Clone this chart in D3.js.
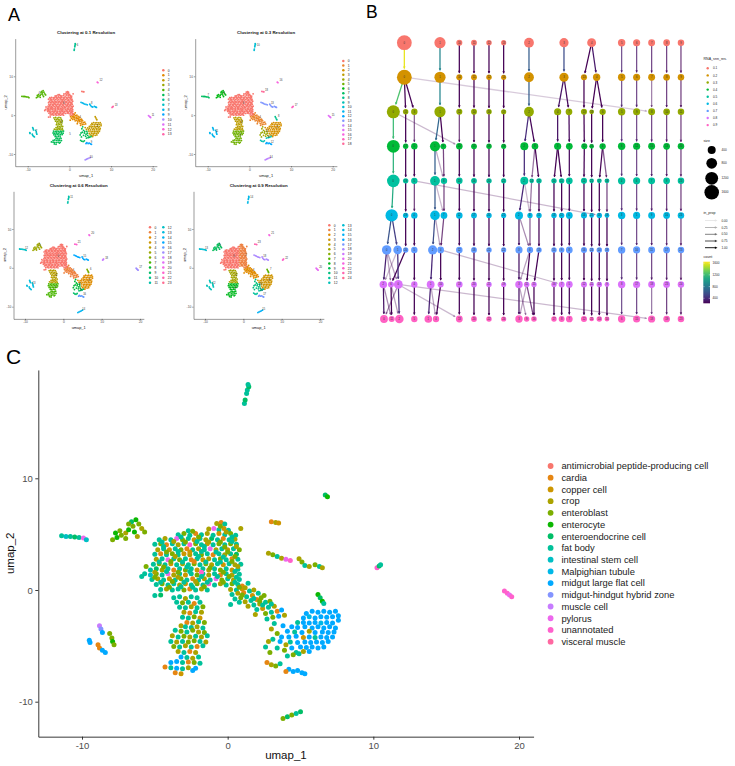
<!DOCTYPE html>
<html lang="en">
<head>
<meta charset="UTF-8">
<script src="https://cdn.jsdelivr.net/npm/d3@7"></script>
<title>clusters</title>
<style>
  body { margin: 0; background: #fff; }
  svg { font-family: "Liberation Sans", Arial, Helvetica, sans-serif; }
</style>
</head>
<body>
<svg id="fig" width="735" height="766"></svg>
<script>
// ---- data ----
const cellTypes = ["antimicrobial peptide-producing cell", "cardia", "copper cell", "crop", "enteroblast",
  "enterocyte", "enteroendocrine cell", "fat body", "intestinal stem cell", "Malpighian tubule",
  "midgut large flat cell", "midgut-hindgut hybrid zone", "muscle cell", "pylorus", "unannotated", "visceral muscle"];
const typeCodes = "abcdefghijklmnop";

// umap points per region, "x,y" + cell type code
const regionNames = ["mainL", "mainR", "bridge", "rightBlob", "rightLow", "lowerUpper", "lowerBottom", "leftCluster",
  "farLeft", "topIsland", "leftSmall", "blueBottom", "midRight", "bottomIsle", "farRight", "dotUp", "dotRight",
  "topSmall", "greenR", "smallBlobs"];
const regionPoints = [
  "-2.7,5.3h -1.3,5.45d -3.4,4.95h -3.0,5.05e -2.6,4.9h -2.2,5.05b -1.8,4.95h -1.4,5.05d " +
  "-4.7,4.5h -4.3,4.6d -3.9,4.5h -3.5,4.6n -3.1,4.5e -2.7,4.6h -2.3,4.5c -1.9,4.6h -1.5,4.5d -1.1,4.6g " +
  "-5.0,4.1h -4.6,4.15e -4.2,4.05b -3.8,4.15h -3.4,4.05d -3.0,4.15h -2.6,4.05o -2.2,4.15e -1.8,4.05h -1.4,4.15c " +
  "-4.8,3.6d -4.4,3.7h -4.0,3.6c -3.6,3.7h -3.2,3.6e -2.8,3.7b -2.4,3.6h -2.0,3.7d -1.6,3.6h -1.2,3.7n " +
  "-5.0,3.2h -4.6,3.25b -4.2,3.15h -3.8,3.25e -3.4,3.15h -3.0,3.25c -2.6,3.15d -2.2,3.25h -1.8,3.15e -1.4,3.25h " +
  "-4.9,2.75d -4.5,2.8h -4.1,2.7n -3.7,2.8h -3.3,2.7e -2.9,2.8h -2.5,2.7b -2.1,2.8h -1.7,2.7c -1.3,2.8d " +
  "-5.1,2.3h -4.7,2.35e -4.3,2.25h -3.9,2.35c -3.5,2.25h -3.1,2.35d -2.7,2.25h -2.3,2.35e -1.9,2.25h -1.5,2.35e -1.1,2.25d " +
  "-5.3,1.8h -4.9,1.9g -4.5,1.8d -4.1,1.9h -3.7,1.8b -3.3,1.9h -2.9,1.8e -2.5,1.9h -2.1,1.8c -1.7,1.9h -1.3,1.8d " +
  "-5.7,1.45h -5.3,1.35i -4.9,1.45e -4.5,1.35h -4.1,1.45n -3.7,1.35d -3.3,1.45h -2.9,1.35c -2.5,1.45h -2.1,1.35e -1.7,1.45h -1.3,1.35d " +
  "-5.2,0.95h -4.8,1.0d -4.4,0.9h -4.0,1.0c -3.6,0.9h -3.2,1.0e -2.8,0.9h -2.4,1.0b -2.0,0.9h -1.6,1.0d -1.2,0.9h " +
  "-4.9,0.5h -4.5,0.55e -4.1,0.45h -3.7,0.55h -3.3,0.45d -2.9,0.55c -2.5,0.45h -2.1,0.55e -1.7,0.45h -1.3,0.55o " +
  "-4.6,0.05h -4.2,0.1d -3.8,0.0h -3.4,0.1h -3.0,0.0e -2.6,0.1b -2.2,0.0h -1.8,0.1d -1.4,0.0h " +
  "-5.9,1.2h -5.0,-0.5h -4.6,-0.45g -5.6,2.1e " +
  "-4.5,4.3h -3.7,4.35d -2.9,4.3e -2.1,4.35h -1.3,4.3d -4.2,3.4e -3.4,3.45h -2.6,3.4c -1.8,3.45h -4.7,2.5h " +
  "-3.9,2.55e -3.1,2.5h -2.3,2.55b -1.5,2.5h -5.0,1.6d -4.2,1.65h -3.4,1.6e -2.6,1.65h -1.8,1.6o -4.6,0.7h " +
  "-3.8,0.75e -3.0,0.7h -2.2,0.75d -1.4,0.7h -4.0,0.25e -3.2,0.3h -2.4,0.25h -1.6,0.3e -2.4,5.25e -3.2,4.75h " +
  "-2.0,4.75e -4.4,3.9h -1.6,3.9h -3.6,3.0d -2.0,3.0h -4.4,2.05e -2.8,2.05h -1.2,2.0e -5.0,1.15e -3.4,1.15d -1.8,1.2h",
  "-0.75,5.95d -0.45,6.05b -0.2,5.9h -0.95,5.5n -0.6,5.4h -0.25,5.5c 0.05,5.35h 0.9,5.5d " +
  "-1.0,4.9h -0.6,5.05c -0.2,4.95h 0.2,5.05e 0.55,4.9h -0.7,4.5h -0.3,4.6b 0.1,4.5h 0.5,4.55d " +
  "-1.0,4.05h -0.6,4.15e -0.2,4.05h 0.2,4.15e 0.6,4.1h -0.8,3.6d -0.4,3.7h 0.0,3.6c 0.4,3.7h 0.8,3.6e " +
  "-1.0,3.15b -0.6,3.25h -0.2,3.15d 0.2,3.25h 0.6,3.2g -0.9,2.7h -0.5,2.8e -0.1,2.7h 0.3,2.8b 0.7,2.75h " +
  "-0.7,2.35h -0.3,2.25c 0.1,2.35h 0.5,2.25d 0.9,2.3h -0.9,1.9h -0.5,1.8e -0.1,1.9h 0.3,1.8c 0.7,1.85h " +
  "-0.9,1.45h -0.5,1.35b -0.1,1.45h 0.3,1.35d 0.8,1.4h -0.8,1.0n -0.4,0.9e 0.0,1.0h 0.4,0.9d 0.8,0.95h " +
  "-0.9,0.45h -0.5,0.55d -0.1,0.45h 0.3,0.55e 0.7,0.5h 1.0,0.35b 0.2,0.05d 0.6,0.0h 1.0,0.1c " +
  "-0.5,5.7e -0.1,5.2d 0.3,4.75h -0.5,4.3e 0.3,4.35h -0.2,3.85e 0.6,3.9d -0.8,3.4h 0.0,3.4e -0.3,2.95h " +
  "0.5,3.0e -0.5,2.5h 0.3,2.55e 0.7,2.1d -0.3,1.6e 0.5,1.65h -0.7,1.2h 0.1,1.2e 0.6,1.15h -0.3,0.7e 0.5,0.7h 0.8,0.25e",
  "0.3,-0.4h 0.7,-0.3d 1.1,-0.25b 0.5,-0.8h 0.9,-0.7e 1.3,-0.6h 1.7,-0.5c 1.2,0.2d 1.5,-0.1h 0.8,-1.1h 1.2,-1.05d " +
  "1.6,-0.95h 2.0,-0.85b 2.3,-0.7e 1.4,-1.45d 1.8,-1.35h 2.2,-1.25d 2.6,-1.1h 2.9,-1.0e 2.0,-1.75h 2.4,-1.65c " +
  "2.8,-1.55h 3.2,-1.45d 2.6,-2.1e 3.0,-2.0h 3.4,-1.9b 3.7,-1.8k 2.7,-2.6h 3.1,-2.45e 3.5,-2.35k 3.9,-2.25d " +
  "0.2,-1.3h 1.9,-2.2d 1.4,0.6h 1.8,0.0d 2.1,-0.3h 2.5,-0.5e 1.0,-0.45e 1.8,-0.75h 2.2,-1.0e 2.4,-1.35h 3.0,-1.25h",
  "5.4,-2.1k 5.8,-1.9k 6.2,-2.0k 6.6,-1.9k 7.0,-2.0k 7.4,-1.9k 7.6,-2.3k 5.2,-2.5k 5.6,-2.4j 6.0,-2.5k 6.4,-2.4k " +
  "6.8,-2.45k 7.2,-2.4k 7.6,-2.7k 4.8,-2.9h 5.2,-2.9k 5.6,-2.95k 6.0,-2.9k 6.4,-2.95j 6.8,-2.9k 7.2,-2.95k " +
  "4.4,-3.3k 4.8,-3.35k 5.3,-3.3k 5.8,-3.4k 6.2,-3.3k 6.6,-3.4k 7.0,-3.3k 7.4,-3.4k 3.8,-3.2k 4.1,-3.7k " +
  "4.6,-3.75h 5.1,-3.8k 5.6,-3.7d 6.0,-3.8k 6.5,-3.75k 6.9,-3.8k 7.3,-3.75k 4.7,-4.15k 5.2,-4.25c 5.6,-4.2k " +
  "6.0,-4.25h 6.4,-4.2k 6.8,-4.25k 7.2,-4.2k 4.8,-4.7k 5.3,-4.65k 5.7,-4.7k 6.1,-4.65k 6.5,-4.7k 6.9,-4.6k " +
  "5.0,-5.1k 5.4,-5.15k 5.8,-5.1k 6.2,-5.2k 6.6,-5.1k 5.6,-5.5k",
  "3.2,-3.0h 3.0,-3.5d 3.4,-3.9e 3.1,-4.4h 3.6,-4.6k 4.0,-4.9d 3.4,-5.2h 3.9,-5.4e 4.4,-5.2k 2.8,-4.6d " +
  "2.6,-5.1h 2.9,-5.6e 4.7,-5.6h 3.7,-4.2k 4.2,-4.2k 4.3,-4.65h",
  "-3.7,-0.7h -3.3,-0.6h -2.9,-0.75d -2.5,-0.6h -2.1,-0.7h -3.5,-1.1h -3.1,-1.15e -2.7,-1.1h -2.3,-1.2b -1.9,-1.1h " +
  "-3.3,-1.55h -2.9,-1.6h -2.5,-1.5d -2.1,-1.6h -1.7,-1.5e -3.0,-2.0d -2.6,-2.05b -2.2,-1.95h -1.8,-2.0d " +
  "-3.1,-2.45h -2.7,-2.5h -2.3,-2.4e -1.9,-2.5c -2.8,-2.9b -2.4,-2.95d -2.0,-2.85h -1.6,-2.9e -3.2,-3.2d " +
  "-2.5,-3.35h -2.1,-3.3d -1.7,-3.4h -3.6,-3.6h -3.2,-3.7e -2.8,-3.75h -2.0,-3.75d -1.6,-3.8e -2.9,-3.3h -2.4,-3.6e",
  "-3.8,-4.1d -3.4,-4.2h -3.0,-4.15e -2.6,-4.2d -2.2,-4.15h -1.8,-4.2d -1.4,-4.1h -3.9,-4.6h -3.5,-4.65d " +
  "-3.1,-4.6h -2.7,-4.65e -2.3,-4.55e -1.9,-4.6h -1.5,-4.65d -3.7,-5.05e -3.3,-5.1h -2.9,-5.0d -2.5,-5.1h " +
  "-2.1,-5.05b -1.7,-5.0h -3.4,-5.5d -3.0,-5.6h -2.6,-5.5b -2.2,-5.6d -3.2,-6.0k -2.8,-6.05h -2.4,-6.1d " +
  "-2.0,-6.0h -3.9,-6.5k -3.5,-6.4k -3.1,-6.5h -2.7,-6.45b -2.3,-6.5e -1.9,-6.55h -4.3,-6.9b -3.9,-6.95h " +
  "-3.5,-7.0k -3.1,-7.05h -2.7,-6.95d -2.2,-7.0k -3.6,-7.4b -3.2,-7.5c -2.4,-7.2k",
  "-7.9,4.5e -7.6,4.7f -7.3,4.9e -7.0,5.1d -7.4,5.3e -6.8,5.4f -6.5,5.7e -6.6,6.1g -6.3,6.3f -6.1,5.9e " +
  "-5.9,5.5d -5.7,5.2e -6.4,5.2f -7.0,4.6e -6.2,4.8d -7.7,5.1f -6.8,5.9e",
  "-11.4,4.85h -11.1,4.8i -10.8,4.8h -10.5,4.75g -10.2,4.7h -9.9,4.65n -9.7,4.5i",
  "1.15,16.7h 1.2,17.0g 1.3,17.6h 1.35,17.9h 1.45,18.2g 1.4,18.4h",
  "-9.5,-4.5k -9.45,-4.7k -8.8,-3.2m -8.7,-3.5l -8.6,-3.8k -8.9,-4.9b -8.8,-5.2b -8.6,-5.4k -8.4,-5.6k " +
  "-8.1,-3.9e -7.95,-4.3e -7.9,-4.6f -7.8,-4.9e",
  "4.2,-7.1k 4.5,-7.3k 4.8,-7.2k 5.1,-7.4k 5.3,-7.5k 4.0,-7.3b",
  "2.8,3.3d 3.1,3.15e 3.4,3.0h 3.7,2.85d 4.0,2.75n 4.3,2.65o 4.9,2.8d 5.1,2.5e 5.3,2.2h 5.6,2.1d 6.0,2.25e 6.3,2.1h 6.5,2.0d",
  "3.8,-11.5e 4.1,-11.35g 4.4,-11.2e 4.7,-11.05h 5.0,-10.9g",
  "19.0,-0.1o 19.2,-0.3o 19.35,-0.45n 19.5,-0.6o",
  "6.7,8.5g 6.85,8.35f",
  "10.25,2.0o 10.4,2.15g 10.5,2.25h",
  "3.0,6.1b 3.3,6.05d 3.5,6.0c",
  "6.2,-0.4f 6.35,-0.7g 6.5,-1.0f 6.6,-1.2h",
  "2.7,-6.5b 3.0,-6.7d 3.3,-6.8e 3.6,-6.6h 4.1,-5.9h 4.5,-5.8e 4.9,-5.7h 5.2,-5.5d"
];
// cluster of each region at each resolution (panel A)
const clusterRes01 = [0, 0, 1, 2, 5, 3, 5, 4, 4, 6, 7, 9, 8, 10, 11, 12, 13, 0, 2, 5];
const clusterRes03 = [0, 0, 1, 2, 4, 3, 5, 6, 7, 10, 11, 12, 13, 14, 15, 16, 17, 18, 8, 9];
const clusterRes06 = [0, 0, 1, 2, 8, 4, 7, 5, 12, 11, 13, 16, 15, 14, 17, 20, 18, 21, 6, 9];
const clusterRes09 = [0, 1, 2, 3, 10, 5, 8, 9, 13, 14, 12, 17, 18, 15, 20, 21, 22, 23, 7, 11];
const clusterCounts = [14, 19, 24, 25];
const umapXTicks = [-10, 0, 10, 20];
const umapYTicks = [-10, 0, 10];

// clustree: nodes "cluster:xpos:size" per resolution, edges "fromX>toX:count:in_prop"
const resolutions = ["0.1", "0.2", "0.3", "0.4", "0.5", "0.6", "0.7", "0.8", "0.9"];
const treeNodes = [
  "0:118:1650 1:225:880 10:283:200 11:327:180 12:372:150 13:416:130 2:492:650 3:597:560 4:680:520 5:770:330 6:815:300 7:860:280 8:905:260 9:948:240",
  "0:118:1650 1:225:880 10:283:200 11:327:180 12:372:150 14:416:130 2:492:650 3:597:560 13:657:200 4:695:320 5:770:330 6:815:300 7:860:280 8:905:260 9:948:240",
  "0:85:1250 15:122:150 3:148:230 1:225:880 12:283:200 14:327:180 16:372:150 17:416:130 2:492:650 4:578:300 7:612:260 13:657:200 18:680:100 6:713:220 5:770:330 9:815:300 8:860:280 10:905:260 11:948:240",
  "0:85:1200 17:122:150 5:148:230 1:210:700 9:235:180 13:283:240 15:327:180 18:372:150 19:416:130 2:478:400 8:510:250 3:578:300 7:613:260 11:658:200 16:680:100 4:713:220 6:770:330 12:815:300 10:860:280 14:905:260 20:948:240",
  "0:85:1150 19:122:150 5:148:230 1:210:650 8:237:230 13:283:240 16:327:180 20:372:150 22:416:130 2:478:400 14:500:100 15:522:150 10:567:150 11:590:150 3:613:260 12:657:200 21:680:100 17:703:110 18:726:110 4:770:330 6:815:300 7:860:280 9:905:260 23:948:240",
  "0:80:1100 19:122:150 4:148:230 1:210:620 7:237:260 12:283:240 17:327:180 20:372:150 21:416:130 2:462:400 8:495:140 15:522:150 13:567:150 11:590:150 6:613:260 14:657:200 22:680:100 16:703:150 18:726:110 3:770:330 5:815:300 9:860:280 10:905:260 23:948:240",
  "0:65:600 1:98:480 20:122:150 5:148:230 2:203:560 4:227:260 12:283:240 18:327:180 21:372:150 22:416:130 3:462:300 6:495:220 13:522:150 15:567:150 9:590:150 8:613:260 16:657:200 24:680:100 14:703:150 19:726:110 7:770:330 10:815:300 11:860:280 17:905:260 23:948:240",
  "2:55:350 6:78:190 0:100:500 4:148:230 1:197:380 10:227:200 13:283:240 20:327:180 21:372:150 19:416:130 3:462:340 11:485:160 15:507:150 16:567:150 7:590:190 5:613:260 12:657:200 22:680:100 14:703:150 9:726:110 8:770:330 17:815:300 18:860:280 23:905:260 24:948:240",
  "0:57:380 11:80:200 2:103:470 5:148:230 1:190:360 4:213:230 13:283:270 20:327:180 22:372:150 24:416:130 3:462:330 9:485:150 16:507:160 17:567:150 8:590:190 7:613:260 12:657:200 21:680:100 14:703:150 10:726:110 6:770:330 15:815:300 18:860:310 19:905:260 23:948:240"
];
const treeEdges = [
  "118>118:1600:1 225>225:880:1 283>283:200:1 327>327:180:1 372>372:150:1 416>416:130:1 492>492:650:1 597>597:560:1 680>657:200:1 680>695:320:1 770>770:330:0.72 815>815:300:0.72 860>860:280:0.72 905>905:260:0.72 948>948:240:0.72",
  "118>85:1250:1 118>122:150:1 118>148:230:1 118>860:30:0.12 225>225:880:1 283>283:200:1 327>327:180:1 372>372:150:1 416>416:130:1 492>492:650:1 597>578:300:1 597>612:260:1 657>657:200:1 695>680:100:1 695>713:220:1 770>770:330:0.72 815>815:300:0.72 860>860:250:0.45 905>905:260:0.72 948>948:240:0.72",
  "85>85:1200:1 85>283:40:0.2 122>122:150:1 148>148:230:0.6 225>210:700:1 225>235:180:1 283>283:200:0.7 327>327:180:1 372>372:150:1 416>416:130:1 492>478:400:1 492>510:250:1 578>578:300:1 612>613:260:1 657>658:200:1 680>680:100:1 713>713:220:1 770>770:330:0.72 815>815:300:0.72 860>860:280:0.72 905>905:260:0.72 948>948:240:0.72",
  "85>85:1150:1 122>122:150:1 148>148:230:1 210>210:650:1 210>237:50:0.25 235>237:180:0.7 283>283:240:1 327>327:180:1 372>372:150:1 416>416:130:1 478>478:400:1 510>500:100:0.5 510>522:150:1 578>567:150:1 578>590:150:1 613>613:260:1 658>657:200:1 680>680:100:1 713>703:110:1 713>726:110:0.6 770>770:330:0.72 815>815:300:0.72 860>860:280:0.72 905>905:260:0.72 948>948:240:0.72",
  "85>80:1100:1 148>703:40:0.2 122>122:150:1 148>148:190:0.7 210>210:620:1 237>237:230:0.7 210>237:30:0.2 283>283:240:1 327>327:180:1 372>372:150:1 416>416:130:1 478>462:380:1 478>495:20:0.2 500>495:100:0.5 522>522:150:1 567>567:150:1 590>590:150:1 613>613:260:1 657>657:200:1 680>680:100:1 703>703:110:1 726>726:110:0.7 770>770:330:0.72 815>815:300:0.72 860>860:280:0.72 905>905:260:0.72 948>948:240:0.72",
  "80>65:600:1 80>98:480:1 122>122:150:1 148>148:230:1 210>203:560:1 210>227:60:0.3 237>227:200:0.7 283>283:240:1 327>327:180:1 372>372:150:1 416>416:130:1 462>462:300:1 462>495:80:0.4 495>495:140:0.6 522>522:150:1 567>567:150:1 590>590:150:1 613>613:260:1 657>657:200:1 680>680:100:1 703>703:150:1 726>726:110:1 770>770:330:0.72 815>815:300:0.72 860>860:280:0.72 905>905:260:0.72 948>948:240:0.72",
  "65>55:350:1 65>78:40:0.3 65>100:80:0.3 122>78:150:1 98>100:420:1 98>55:40:0.2 148>148:230:1 203>197:380:1 227>227:200:1 227>590:40:0.2 283>283:240:1 327>327:180:1 372>372:150:1 416>416:130:1 462>462:300:1 495>485:160:1 495>462:40:0.3 522>507:150:1 567>567:150:1 590>590:150:1 613>613:260:1 657>657:200:1 680>680:100:1 703>703:150:1 726>726:110:1 770>770:330:0.72 815>815:300:0.72 860>860:280:0.72 905>905:260:0.72 948>948:240:0.72",
  "55>57:300:1 55>80:40:0.4 78>80:150:1 78>103:30:0.3 100>103:420:1 100>57:60:0.4 100>283:30:0.2 100>860:30:0.2 148>148:230:1 197>190:360:1 197>213:30:0.3 227>213:200:1 283>283:240:1 327>327:180:1 372>372:150:1 416>416:130:1 462>462:300:1 462>485:30:0.3 485>462:30:0.3 485>507:120:0.7 507>507:120:1 567>567:150:1 590>590:190:1 613>613:260:1 657>657:200:1 680>680:100:1 703>703:150:1 726>726:110:1 770>770:330:0.72 815>815:300:0.72 860>860:280:0.5 905>905:260:0.72 948>948:240:0.72"
];
const sizeBreaks = [400, 800, 1200, 1600];
const propBreaks = [0, 0.25, 0.5, 0.75, 1];
const countBreaks = [400, 800, 1200, 1600];

// ---- helpers ----
const FONT = '"Liberation Sans", Arial, Helvetica, sans-serif';
const svg = d3.select("#fig");

// ggplot-style hue palette (polar Luv, l=65, c=100)
function hueColor(h) {
  const hr = h * Math.PI / 180, L = 65;
  const u = 100 * Math.cos(hr), v = 100 * Math.sin(hr);
  const Y = Math.pow((L + 16) / 116, 3);
  const up = u / (13 * L) + 0.1978398, vp = v / (13 * L) + 0.4683363;
  const X = Y * 9 * up / (4 * vp), Z = Y * (12 - 3 * up - 20 * vp) / (4 * vp);
  const r = 3.240479 * X - 1.53715 * Y - 0.498535 * Z;
  const g = -0.969256 * X + 1.875992 * Y + 0.041556 * Z;
  const b = 0.055648 * X - 0.204043 * Y + 1.057311 * Z;
  const gam = c => { c = c <= 0.0031308 ? 12.92 * c : 1.055 * Math.pow(c, 1 / 2.4) - 0.055; return Math.round(255 * Math.max(0, Math.min(1, c))); };
  return d3.rgb(gam(r), gam(g), gam(b)).formatHex();
}
function huePal(n) { return d3.range(n).map(i => hueColor(15 + 360 * i / n)); }

const pts = [];
regionPoints.forEach((s, ri) => {
  for (const m of s.matchAll(/(-?[\d.]+),(-?[\d.]+)([a-p])/g)) {
    pts.push({ x: +m[1], y: +m[2], t: typeCodes.indexOf(m[3]), reg: ri });
  }
});

const umapXLim = [-13, 21], umapYLim = [-13.13, 19.7];
function limScale(ref, px, lim) {
  const s = d3.scaleLinear().domain(ref).range(px);
  return d3.scaleLinear().domain(lim).range(lim.map(s));
}

function umapAxes(g, xs, ys, o) {
  const gx = g.append("g")
    .attr("transform", `translate(0,${ys(umapYLim[0])})`)
    .call(d3.axisBottom(xs).tickValues(umapXTicks).tickSize(o.tick).tickSizeOuter(0).tickPadding(o.pad).tickFormat(d => String(d)));
  const gy = g.append("g")
    .attr("transform", `translate(${xs(umapXLim[0])},0)`)
    .call(d3.axisLeft(ys).tickValues(umapYTicks).tickSize(o.tick).tickSizeOuter(0).tickPadding(o.pad).tickFormat(d => String(d)));
  [gx, gy].forEach(a => {
    a.attr("font-family", FONT).attr("font-size", o.fs);
    a.select(".domain").attr("stroke", "#222").attr("stroke-width", o.lw);
    a.selectAll(".tick line").attr("stroke", "#222").attr("stroke-width", o.lw);
    a.selectAll(".tick text").attr("fill", "#4d4d4d");
  });
  const cx = (xs.range()[0] + xs.range()[1]) / 2, cy = (ys.range()[0] + ys.range()[1]) / 2;
  g.append("text").attr("x", cx).attr("y", o.xlabY).attr("text-anchor", "middle")
    .attr("font-size", o.titleFs).attr("fill", "#111").text("umap_1");
  g.append("text").attr("transform", `translate(${o.ylabX},${cy}) rotate(-90)`).attr("text-anchor", "middle")
    .attr("font-size", o.titleFs).attr("fill", "#111").text("umap_2");
}

// ---- panel letters ----
svg.append("text").attr("x", 8).attr("y", 21).attr("font-size", 18).text("A");
svg.append("text").attr("x", 366).attr("y", 17.5).attr("font-size", 17.5).text("B");
svg.append("text").attr("x", 6).attr("y", 363.5).attr("font-size", 21).text("C");

// ---- panel A ----
const aSpecs = [
  { res: "0.1", map: clusterRes01, n: clusterCounts[0], xr: [27.7, 152.7], yr: [154, 76.3], titleY: 34, xlabY: 176.5,
    legX: [163.3], legY0: 70.3, legDy: 4.92, rows: 14 },
  { res: "0.3", map: clusterRes03, n: clusterCounts[1], xr: [207.7, 332.7], yr: [154, 76.3], titleY: 34, xlabY: 176.5,
    legX: [343.3], legY0: 61, legDy: 4.6, rows: 19 },
  { res: "0.6", map: clusterRes06, n: clusterCounts[2], xr: [25, 140], yr: [306.7, 229], titleY: 187, xlabY: 329,
    legX: [150, 163.3], legY0: 227.3, legDy: 5.04, rows: 12 },
  { res: "0.9", map: clusterRes09, n: clusterCounts[3], xr: [205, 320], yr: [306.7, 229], titleY: 187, xlabY: 329,
    legX: [329.3, 343.3], legY0: 225.3, legDy: 4.78, rows: 13 }
];

aSpecs.forEach(sp => {
  const g = svg.append("g").attr("font-family", FONT);
  const xs = limScale([-10, 20], sp.xr, umapXLim);
  const ys = limScale([-10, 10], sp.yr, umapYLim);
  const pal = huePal(sp.n);
  umapAxes(g, xs, ys, { tick: 1.3, pad: 0.9, fs: 3.3, lw: 0.45, titleFs: 3.9, xlabY: sp.xlabY, ylabX: xs.range()[0] - 8 });
  g.append("g").selectAll("circle").data(pts).join("circle")
    .attr("cx", d => xs(d.x)).attr("cy", d => ys(d.y)).attr("r", 0.9)
    .attr("fill", d => pal[sp.map[d.reg]]);
  // cluster labels at centroids
  const groups = d3.rollups(pts, v => [d3.mean(v, d => d.x), d3.mean(v, d => d.y)], d => sp.map[d.reg]);
  g.append("g").selectAll("text").data(groups).join("text")
    .attr("x", d => xs(d[1][0]) + 2).attr("y", d => ys(d[1][1]) - 1)
    .attr("font-size", 2.6).attr("fill", "#333").text(d => d[0]);
  g.append("text").attr("x", (xs.range()[0] + xs.range()[1]) / 2).attr("y", sp.titleY)
    .attr("text-anchor", "middle").attr("font-size", 4.4).attr("font-weight", "bold").attr("fill", "#111")
    .text(`Clustering at ${sp.res} Resolution`);
  const leg = g.append("g");
  d3.range(sp.n).forEach(i => {
    const col = Math.floor(i / sp.rows), row = i % sp.rows;
    const lx = sp.legX[col], ly = sp.legY0 + row * sp.legDy;
    leg.append("circle").attr("cx", lx).attr("cy", ly).attr("r", 1.25).attr("fill", pal[i]);
    leg.append("text").attr("x", lx + 4.5).attr("y", ly + 1.2).attr("font-size", 3.3).attr("fill", "#222").text(i);
  });
});

// ---- panel B: clustree ----
const bx = d3.scaleLinear().domain([0, 1000]).range([365, 698.3]);
const by = d3.scalePoint().domain(resolutions).range([42.7, 319]);
const bSize = d3.scaleSqrt().domain([0, 1600]).range([0.7, 7.3]);
const countMin = 230, countMax = 1650;
const bCount = c => d3.interpolateViridis(Math.max(0, Math.min(1, (c - countMin) / (countMax - countMin))));
const bAlpha = p => 0.1 + 0.9 * p;
const resPal = huePal(resolutions.length);

const rows = treeNodes.map(s => s.split(" ").map(t => { const [c, x, n] = t.split(":"); return { c, x: +x, n: +n }; }));
const edges = [];
treeEdges.forEach((s, ri) => {
  s.split(" ").forEach(t => {
    const [pair, cnt, prop] = t.split(":");
    const [fx, tx] = pair.split(">").map(Number);
    const a = rows[ri].find(d => d.x === fx), b = rows[ri + 1].find(d => d.x === tx);
    if (a && b) edges.push({ a, b, ra: ri, rb: ri + 1, count: +cnt, prop: +prop });
  });
});

const gB = svg.append("g").attr("font-family", FONT);
const gEdges = gB.append("g");
function arrowPath(x1, y1, x2, y2, len, half) {
  const dx = x2 - x1, dy = y2 - y1, L = Math.hypot(dx, dy), ux = dx / L, uy = dy / L;
  const bx0 = x2 - ux * len, by0 = y2 - uy * len;
  return `M${x2},${y2}L${bx0 - uy * half},${by0 + ux * half}L${bx0 + uy * half},${by0 - ux * half}Z`;
}
edges.sort((p, q) => p.prop - q.prop).forEach(e => {
  const x1 = bx(e.a.x), y1 = by(resolutions[e.ra]), x2 = bx(e.b.x), y2c = by(resolutions[e.rb]);
  const dx = x2 - x1, dy = y2c - y1, L = Math.hypot(dx, dy), ux = dx / L, uy = dy / L;
  const r2 = bSize(e.b.n) + 0.8;
  const ex = x2 - ux * r2, ey = y2c - uy * r2;
  const col = bCount(e.count), op = bAlpha(e.prop);
  gEdges.append("line").attr("x1", x1).attr("y1", y1).attr("x2", ex - ux * 0.6).attr("y2", ey - uy * 0.6)
    .attr("stroke", col).attr("stroke-width", 1.25).attr("stroke-opacity", op);
  gEdges.append("path").attr("d", arrowPath(x1, y1, ex, ey, 2.6, 1.25)).attr("fill", col).attr("fill-opacity", op);
});
const gNodes = gB.append("g");
rows.forEach((row, ri) => {
  const yy = by(resolutions[ri]);
  const ng = gNodes.selectAll(null).data(row).join("g").attr("transform", d => `translate(${bx(d.x)},${yy})`);
  ng.append("circle").attr("r", d => bSize(d.n)).attr("fill", resPal[ri]);
  ng.append("text").attr("text-anchor", "middle").attr("dy", "0.35em").attr("font-size", 2.6).attr("fill", "#333").text(d => d.c);
});

// clustree legends
const gL = gB.append("g");
gL.append("text").attr("x", 703.5).attr("y", 60).attr("font-size", 3.6).attr("fill", "#222").text("RNA_snn_res.");
resolutions.forEach((r, i) => {
  const yy = 68.3 + i * 7.1;
  gL.append("circle").attr("cx", 707.7).attr("cy", yy).attr("r", 1.2).attr("fill", resPal[i]);
  gL.append("text").attr("x", 713).attr("y", yy + 1.1).attr("font-size", 3.1).attr("fill", "#222").text(r);
});
gL.append("text").attr("x", 703.5).attr("y", 141.5).attr("font-size", 3.6).attr("fill", "#222").text("size");
const sizeY = [150, 163.3, 178.3, 192.3];
sizeBreaks.forEach((s, i) => {
  gL.append("circle").attr("cx", 711.7).attr("cy", sizeY[i]).attr("r", bSize(s)).attr("fill", "#000");
  gL.append("text").attr("x", 721.5).attr("y", sizeY[i] + 1.1).attr("font-size", 3.1).attr("fill", "#222").text(s);
});
gL.append("text").attr("x", 703.5).attr("y", 213.5).attr("font-size", 3.6).attr("fill", "#222").text("in_prop");
const propY = [220.5, 227.5, 234.3, 241, 247.7];
propBreaks.forEach((p, i) => {
  gL.append("line").attr("x1", 705).attr("x2", 715).attr("y1", propY[i]).attr("y2", propY[i])
    .attr("stroke", "#000").attr("stroke-width", 0.9).attr("stroke-opacity", bAlpha(p));
  gL.append("path").attr("d", arrowPath(705, propY[i], 717.5, propY[i], 2.6, 1.2)).attr("fill", "#000").attr("fill-opacity", bAlpha(p));
  gL.append("text").attr("x", 721.5).attr("y", propY[i] + 1.1).attr("font-size", 3.1).attr("fill", "#222").text(p.toFixed(2));
});
gL.append("text").attr("x", 703.5).attr("y", 257.5).attr("font-size", 3.6).attr("fill", "#222").text("count");
const cbar = d3.scaleLinear().domain([countMin, countMax]).range([303.3, 261.7]);
const defs = svg.append("defs");
const grad = defs.append("linearGradient").attr("id", "vir").attr("x1", 0).attr("x2", 0).attr("y1", 1).attr("y2", 0);
d3.range(0, 1.001, 0.1).forEach(t => grad.append("stop").attr("offset", t).attr("stop-color", d3.interpolateViridis(t)));
gL.append("rect").attr("x", 703.3).attr("y", 261.7).attr("width", 6.7).attr("height", 41.6).attr("fill", "url(#vir)");
countBreaks.forEach(c => {
  gL.append("line").attr("x1", 703.3).attr("x2", 704.6).attr("y1", cbar(c)).attr("y2", cbar(c)).attr("stroke", "#fff").attr("stroke-width", 0.4);
  gL.append("line").attr("x1", 708.7).attr("x2", 710).attr("y1", cbar(c)).attr("y2", cbar(c)).attr("stroke", "#fff").attr("stroke-width", 0.4);
  gL.append("text").attr("x", 712.5).attr("y", cbar(c) + 1.1).attr("font-size", 3.1).attr("fill", "#222").text(c);
});

// ---- panel C ----
const gC = svg.append("g").attr("font-family", FONT);
const cx = limScale([-10, 20], [82, 519], umapXLim);
const cy = limScale([-10, 10], [701.7, 478.3], umapYLim);
const typePal = huePal(cellTypes.length);
umapAxes(gC, cx, cy, { tick: 3, pad: 2.5, fs: 9.5, lw: 0.9, titleFs: 11.5, xlabY: 759, ylabX: 14 });
gC.append("g").selectAll("circle").data(pts).join("circle")
  .attr("cx", d => cx(d.x)).attr("cy", d => cy(d.y)).attr("r", 2.5)
  .attr("fill", d => typePal[d.t]);
const legC = gC.append("g");
cellTypes.forEach((name, i) => {
  const yy = 466 + i * 11.71;
  legC.append("circle").attr("cx", 550.6).attr("cy", yy).attr("r", 2.9).attr("fill", typePal[i]);
  legC.append("text").attr("x", 561.4).attr("y", yy + 3.3).attr("font-size", 9.4).attr("fill", "#222").text(name);
});
</script>
</body>
</html>
